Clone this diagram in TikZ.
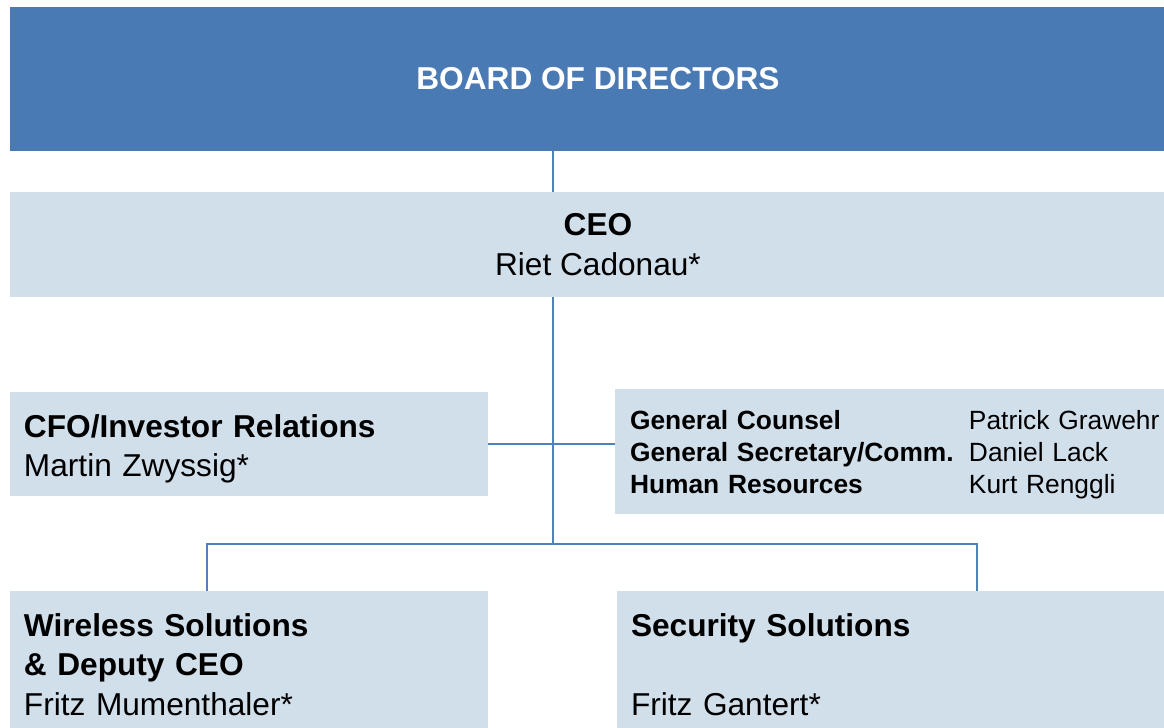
\documentclass[tikz,border=0pt]{standalone}
\usepackage{fontspec}
\setmainfont{Liberation Sans}
\definecolor{boardblue}{HTML}{4A7AB4}
\definecolor{unitblue}{HTML}{D1DFEB}
\definecolor{linkblue}{HTML}{4F81BD}
\tikzstyle{board} = [rectangle, fill=boardblue, text=white, font=\fontsize{18}{22}\selectfont\bfseries,
minimum width=23.08cm, minimum height=2.88cm]
\tikzstyle{head} = [rectangle, fill=unitblue, font=\fontsize{18}{22.5}\selectfont, align=center,
minimum width=23.08cm, minimum height=2.1cm]
\tikzstyle{unit} = [rectangle, fill=unitblue, font=\fontsize{18}{22.5}\selectfont, align=left,
inner xsep=0.28cm, text width=9cm, execute at begin node={\rule{0pt}{18.7pt}}]
\tikzstyle{staff} = [rectangle, fill=unitblue, font=\fontsize{15}{18.2}\selectfont, align=left,
inner xsep=0.3cm, text width=10.38cm, minimum height=2.5cm, execute at begin node={\rule{0pt}{14.2pt}}]
\tikzstyle{line} = [draw=linkblue, line width=1.1pt]

\begin{document}
\begin{tikzpicture}
			\useasboundingbox (0,0) rectangle (23.28,-14.56);
			\node [board] (board) at (11.74,-1.58) {\hspace*{0.44cm}BOARD OF DIRECTORS};
			\node [head] (ceo) at (11.74,-4.89) {\hspace*{0.44cm}\textbf{CEO}\\\hspace*{0.44cm}Riet Cadonau*};
			\node [unit, minimum height=2.08cm] (cfo) at (4.98,-8.88) {\textbf{CFO/Investor Relations}\\Martin Zwyssig*};
			\node [staff] (staff) at (17.79,-9.03)
			{\makebox[6.78cm][l]{\textbf{General Counsel}}\mbox{Patrick Grawehr}\\
			\makebox[6.78cm][l]{\textbf{General Secretary/Comm.}}Daniel Lack\\
			\makebox[6.78cm][l]{\textbf{Human Resources}}Kurt Renggli};
			\node [unit, minimum height=2.74cm] (wireless) at (4.98,-13.19) {\textbf{Wireless Solutions}\\\textbf{\& Deputy CEO}\\Fritz Mumenthaler*};
			\node [unit, text width=10.38cm, inner xsep=0.28cm, minimum height=2.74cm] (security) at (17.81,-13.19) {\textbf{Security Solutions}\\~\\Fritz Gantert*};
			\coordinate (spine) at (11.06,-10.88);
			\coordinate (wdrop) at (4.14,-10.88);
			\coordinate (sdrop) at (19.54,-10.88);
			\path [line, line width=0.7pt] (board.south -| spine) -- (ceo.north -| spine);
			\path [line] (ceo.south -| spine) -- (spine);
			\path [line] (cfo.east) -- (cfo.east -| staff.west);
			\path [line] (wdrop |- wireless.north) -- (wdrop) -- (sdrop) -- (sdrop |- security.north);
		\end{tikzpicture}
\end{document}
